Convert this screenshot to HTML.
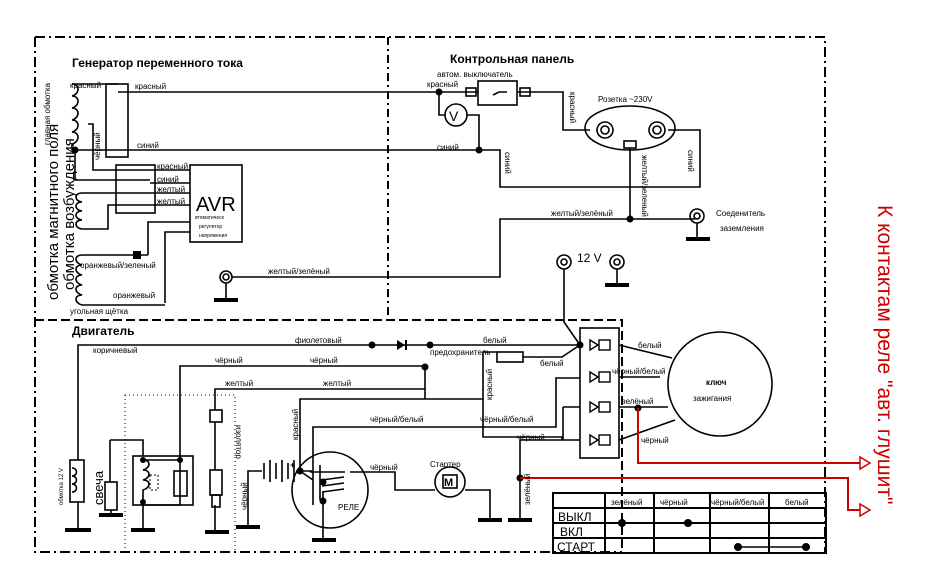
<!DOCTYPE html>
<html><head><meta charset="utf-8"><style>
html,body{margin:0;padding:0;background:#fff;width:935px;height:588px;overflow:hidden}
svg{display:block}
text{font-family:"Liberation Sans",sans-serif;fill:#000}
.s{font-size:8px}
</style></head><body>
<svg width="935" height="588" viewBox="0 0 935 588" xmlns="http://www.w3.org/2000/svg">
<g fill="none" stroke="#000" stroke-width="2">
<path d="M35 37H825V552M35 37V552H622" stroke-dasharray="10,4,2,4"/>
<path d="M388 37V320" stroke-dasharray="8,4,2,4"/>
<path d="M35 320H622V552" stroke-dasharray="9,4"/>
<path d="M125 395H235V552M125 395V552" stroke-width="1" stroke-dasharray="1,3"/>
</g>
<g fill="none" stroke="#000" stroke-width="1.6">
<path d="M72 84c8 0 8 10 0 12c8 0 8 10 0 12c8 0 8 10 0 12c8 0 8 10 0 12c8 0 8 10 0 12v6"/>
<path d="M72 84H118M72 150H118M75 150V180H150M88 124H93V170H150"/>
<rect x="106" y="84" width="22" height="73"/>
<path d="M118 92H563V130H590M118 150H500V187H700V130H668"/>
<path d="M439 92V115H445M467 115H479V150"/>
<circle cx="456" cy="115" r="11"/>
<rect x="478" y="81" width="39" height="24" fill="#fff"/>
<path d="M493 95l6-3h8"/>
<rect x="466" y="88" width="10" height="8"/><rect x="520" y="88" width="10" height="8"/>
<path d="M82 193c-8 0-8 8 0 9c-8 0-8 8 0 9c-8 0-8 8 0 9c-8 0-8 8 0 9M82 193H150M82 229H108V205H150"/>
<rect x="116" y="165" width="39" height="48"/>
<path d="M150 170H190M150 183H190M150 193H190M150 205H190"/>
<rect x="190" y="165" width="52" height="77"/>
<path d="M148 255V222H190M165 303V232H190"/>
<path d="M82 255c-8 0-8 8 0 10c-8 0-8 8 0 10c-8 0-8 8 0 10c-8 0-8 8 0 10c-8 0-8 8 0 10M82 255H148M82 305H165"/>
<circle cx="226" cy="277" r="6"/><circle cx="226" cy="277" r="3"/>
<path d="M232 277H500V219H695M226 283V300"/>
<ellipse cx="630" cy="128" rx="45" ry="22"/>
<circle cx="605" cy="130" r="8"/><circle cx="605" cy="130" r="4"/>
<circle cx="657" cy="130" r="8"/><circle cx="657" cy="130" r="4"/>
<rect x="624" y="141" width="12" height="7"/>
<path d="M630 148V219"/>
<circle cx="697" cy="216" r="7"/><circle cx="697" cy="216" r="3"/><path d="M697 223V238"/>
<circle cx="564" cy="262" r="7"/><circle cx="564" cy="262" r="3"/>
<circle cx="617" cy="262" r="7"/><circle cx="617" cy="262" r="3"/><path d="M617 269V284"/>
<path d="M564 269V322L580 345"/>
<path d="M78 460V345H580M180 440V366H425V399M300 471V399H483V352H497M523 357H562L580 345M215 410V389H425"/>
<rect x="497" y="352" width="26" height="10"/>
<path d="M313 480V427H556V378H580M563 407H580M563 407V440H520V522M483 399V437H562V440H580"/>
<rect x="580" y="328" width="39" height="130"/>
<path d="M619 345L672 358M619 377H660M619 407H668M619 440L675 420"/>
<circle cx="720" cy="384" r="52"/>
<rect x="70" y="460" width="14" height="42"/>
<path d="M72 468c6 0 6 8 0 8c6 0 6 8 0 8c6 0 6 8 0 8M78 502V530"/>
<path d="M110 440H143V456M110 440V482"/>
<rect x="105" y="482" width="12" height="28"/><path d="M111 510V515"/>
<rect x="133" y="456" width="60" height="49"/>
<path d="M143 460c8 0 8 8 0 10c8 0 8 8 0 10c8 0 8 8 0 10V502M143 460H180V505H143M143 502V530M180 440V460"/>
<rect x="174" y="471" width="13" height="25"/>
<rect x="150" y="475" width="8" height="15" stroke-dasharray="2,2" stroke-width="1"/>
<rect x="210" y="410" width="12" height="12"/>
<path d="M215 422V470M215 505V530"/>
<rect x="210" y="470" width="12" height="25"/><rect x="212" y="495" width="8" height="12"/>
<path d="M248 525V471H262M296 471H300L313 480V505"/>
<path d="M264 463v16M270 460v22M276 463v16M282 460v22M288 463v16M294 460v22"/>
<circle cx="330" cy="490" r="38"/>
<path d="M320 465V500M310 472H345M300 471H312M350 472H370H395V490H435M465 490H490V520M323 492V540"/>
<path d="M322 480l22-3M322 486l22-3M322 492l22-3"/>
<circle cx="450" cy="482" r="15"/><rect x="443" y="475" width="14" height="13"/>
</g>
<g fill="#000">
<rect x="214" y="298" width="24" height="4"/><rect x="686" y="237" width="24" height="4"/>
<rect x="605" y="283" width="24" height="4"/>
<rect x="65" y="528" width="26" height="4"/><rect x="99" y="513" width="24" height="4"/>
<rect x="131" y="528" width="24" height="4"/><rect x="205" y="530" width="24" height="4"/>
<rect x="236" y="525" width="24" height="4"/><rect x="312" y="538" width="24" height="4"/>
<rect x="478" y="518" width="24" height="4"/><rect x="508" y="518" width="24" height="4"/>
<rect x="133" y="251" width="8" height="8"/>
<circle cx="75" cy="150" r="3.5"/><circle cx="439" cy="92" r="3.5"/><circle cx="479" cy="150" r="3.5"/>
<circle cx="630" cy="219" r="3.5"/><circle cx="372" cy="345" r="3.5"/><circle cx="430" cy="345" r="3.5"/>
<circle cx="425" cy="367" r="3.5"/><circle cx="580" cy="345" r="3.5"/><circle cx="638" cy="408" r="3.5"/>
<circle cx="520" cy="478" r="3.5"/><circle cx="300" cy="471" r="3.5"/><circle cx="323" cy="482" r="3.5"/>
<circle cx="323" cy="501" r="3.5"/><circle cx="143" cy="460" r="3"/><circle cx="180" cy="460" r="3"/><circle cx="143" cy="502" r="3"/>
<path d="M397 340v10l8-5zM405 340v10h2v-10z"/>
<circle cx="622" cy="523" r="4"/><circle cx="688" cy="523" r="4"/><circle cx="738" cy="547" r="4"/><circle cx="806" cy="547" r="4"/>
</g>
<g fill="none" stroke="#000" stroke-width="1.4">
<path d="M622 523H688M738 547H806"/>
<path d="M590 340l8 5l-8 5zM590 372l8 5l-8 5zM590 402l8 5l-8 5zM590 435l8 5l-8 5z"/>
<rect x="599" y="340" width="11" height="10"/><rect x="599" y="372" width="11" height="10"/>
<rect x="599" y="402" width="11" height="10"/><rect x="599" y="435" width="11" height="10"/>
<rect x="553" y="493" width="273" height="60" stroke-width="2"/>
<path d="M553 508H826M553 523H826M553 538H826M605 493V553M654 493V553M710 493V553M769 493V553" stroke-width="2"/>
</g>
<g fill="none" stroke="#c00" stroke-width="2">
<path d="M638 408V463H860M520 478H848V510H860"/>
<path d="M860 457l10 6l-10 6zM860 504l10 6l-10 6z" stroke-width="1.5"/>
</g>
<text x="72" y="67" font-size="12" font-weight="bold">Генератор переменного тока</text>
<text x="450" y="63" font-size="12" font-weight="bold">Контрольная панель</text>
<text x="72" y="335" font-size="12" font-weight="bold">Двигатель</text>
<text x="196" y="211" font-size="20">AVR</text>
<text x="449" y="121" font-size="14">V</text>
<text x="444" y="486" font-size="11" font-weight="bold">M</text>
<text x="290" y="468" font-size="9" font-weight="bold">+</text>
<text x="195" y="219" font-size="5">втоматическ</text><text x="199" y="228" font-size="5">регулятор</text><text x="199" y="237" font-size="5">напряжения</text>
<g class="s">
<text x="70" y="88">красный</text><text x="135" y="89">красный</text><text x="137" y="148">синий</text>
<text x="157" y="169">красный</text><text x="157" y="182">синий</text><text x="157" y="192">желтый</text><text x="157" y="204">желтый</text>
<text x="80" y="268">оранжевый/зеленый</text><text x="113" y="298">оранжевый</text><text x="70" y="314">угольная щётка</text>
<text x="268" y="274">желтый/зелёный</text>
<text x="437" y="77">автом. выключатель</text><text x="427" y="87">красный</text><text x="437" y="150">синий</text>
<text x="598" y="102">Розетка ~230V</text><text x="551" y="216">желтый/зелёный</text>
<text x="716" y="216">Соеденитель</text><text x="720" y="231">заземления</text>
<text x="93" y="353">коричневый</text><text x="295" y="343">фиолетовый</text><text x="483" y="343">белый</text>
<text x="215" y="363">чёрный</text><text x="310" y="363">чёрный</text><text x="225" y="386">желтый</text><text x="323" y="386">желтый</text>
<text x="430" y="355">предохранитель</text><text x="540" y="366">белый</text>
<text x="370" y="422">чёрный/белый</text><text x="480" y="422">чёрный/белый</text><text x="517" y="440">чёрный</text>
<text x="370" y="470">чёрный</text><text x="430" y="467">Стартер</text><text x="338" y="510">РЕЛЕ</text>
<text x="638" y="348">белый</text><text x="612" y="374">чёрный/белый</text><text x="622" y="404">зелёный</text><text x="641" y="443">чёрный</text>
<text x="706" y="385" font-weight="bold">ключ</text><text x="693" y="401">зажигания</text>
<text x="611" y="505">зелёный</text><text x="660" y="505">чёрный</text><text x="711" y="505">чёрный/белый</text><text x="785" y="505">белый</text>
</g>
<text x="577" y="262" font-size="12">12 V</text>
<text x="558" y="521" font-size="12">ВЫКЛ</text><text x="560" y="536" font-size="12">ВКЛ</text><text x="557" y="551" font-size="12">СТАРТ</text>
<g class="s">
<text transform="translate(50,145) rotate(-90)">главная обмотка</text>
<text transform="translate(100,160) rotate(-90)">чёрный</text>
<text transform="translate(570,92) rotate(90)">красный</text>
<text transform="translate(505,152) rotate(90)">синий</text>
<text transform="translate(688,150) rotate(90)">синий</text>
<text transform="translate(642,155) rotate(90)">желтый/зеленый</text>
<text transform="translate(492,400) rotate(-90)">красный</text>
<text transform="translate(298,440) rotate(-90)">красный</text>
<text transform="translate(236,425) rotate(90)">изолятор</text>
<text transform="translate(247,510) rotate(-90)">чёрный</text>
<text transform="translate(530,505) rotate(-90)">зелёный</text>
<text transform="translate(63,505) rotate(-90)" font-size="6">обмотка 12 V</text>
</g>
<text transform="translate(103,505) rotate(-90)" font-size="13">свеча</text>
<text transform="translate(58,300) rotate(-90)" font-size="15">обмотка магнитного поля</text>
<text transform="translate(74,290) rotate(-90)" font-size="15">обмотка возбуждения</text>
<text transform="translate(878,205) rotate(90)" font-size="21" style="fill:#c00">К контактам реле "авт. глушит"</text>
</svg>
</body></html>
